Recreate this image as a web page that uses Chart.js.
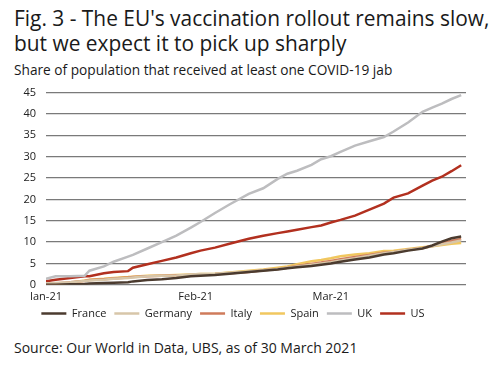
<!DOCTYPE html>
<html lang="en">
<head>
  <meta charset="UTF-8">
  <title>EU vaccination rollout</title>
  <script src="https://cdn.jsdelivr.net/npm/chart.js"></script>
  <style>
    body {
      margin: 0;
      width: 501px;
      height: 367px;
      background: #fff;
      font-family: 'Open Sans', sans-serif;
      color: #1a1a1a;
      position: relative;
      overflow: hidden;
    }
    .title {
      position: absolute;
      left: 14px;
      top: 6px;
      font-size: 20.9px;
      line-height: 25px;
    }
    .subtitle {
      position: absolute;
      left: 14px;
      top: 60px;
      font-size: 13.7px;
    }
    .chart-box {
      position: absolute;
      left: 0;
      top: 76px;
      width: 501px;
      height: 245px;
    }
    .source {
      position: absolute;
      left: 14px;
      top: 338px;
      font-size: 14px;
    }
  </style>
</head>
<body>
  <div class="title">Fig. 3 - The EU's vaccination rollout remains slow,<br>but we expect it to pick up sharply</div>
  <div class="subtitle">Share of population that received at least one COVID-19 jab</div>
  <div class="chart-box"><canvas id="rollout"></canvas></div>
  <div class="source">Source: Our World in Data, UBS, as of 30 March 2021</div>

  <script>
    // days since 1 Jan 2021
    const days = [0, 2, 5, 8, 9, 12, 14, 17, 18, 21, 24, 27, 30, 32, 35, 38, 42, 45, 48, 50,
                  52, 55, 57, 59, 61, 64, 67, 70, 72, 75, 78, 80, 82, 84, 86];

    const france  = [0.0, 0.0, 0.1, 0.2, 0.3, 0.4, 0.5, 0.6, 0.8, 1.1, 1.3, 1.6, 2.0, 2.1, 2.3, 2.6, 3.0, 3.3, 3.6, 3.9,
                     4.1, 4.4, 4.7, 5.0, 5.4, 5.9, 6.4, 7.1, 7.4, 8.0, 8.5, 9.2, 10.1, 10.9, 11.3];
    const germany = [0.3, 0.4, 0.6, 0.9, 1.0, 1.2, 1.4, 1.6, 1.7, 2.0, 2.1, 2.2, 2.4, 2.5, 2.6, 2.8, 3.1, 3.4, 3.7, 4.0,
                     4.3, 4.7, 5.0, 5.3, 5.7, 6.2, 6.8, 7.4, 7.7, 8.2, 8.6, 9.0, 9.5, 9.9, 10.4];
    const italy   = [0.1, 0.3, 0.6, 0.9, 1.1, 1.3, 1.5, 1.7, 1.8, 2.0, 2.1, 2.2, 2.3, 2.4, 2.5, 2.7, 3.0, 3.4, 3.7, 4.0,
                     4.4, 4.9, 5.2, 5.6, 6.0, 6.5, 7.0, 7.5, 7.7, 8.2, 8.6, 9.1, 9.7, 10.3, 10.7];
    const spain   = [0.1, 0.2, 0.5, 1.0, 1.2, 1.4, 1.6, 1.8, 1.9, 2.1, 2.2, 2.3, 2.4, 2.5, 2.6, 2.9, 3.3, 3.6, 4.0, 4.3,
                     4.8, 5.5, 5.8, 6.2, 6.7, 7.1, 7.4, 7.9, 8.0, 8.4, 8.8, 9.0, 9.3, 9.6, 9.8];
    const uk      = [1.4, 2.0, 2.0, 2.1, 3.3, 4.3, 5.4, 6.6, 7.0, 8.5, 10.0, 11.5, 13.4, 14.7, 16.8, 18.8, 21.3, 22.6, 24.8, 26.0,
                     26.7, 28.1, 29.4, 30.1, 31.1, 32.6, 33.6, 34.6, 35.9, 38.0, 40.5, 41.5, 42.4, 43.5, 44.4];
    const us      = [0.8, 1.2, 1.6, 2.0, 2.0, 2.7, 3.0, 3.2, 4.0, 4.8, 5.6, 6.4, 7.4, 8.0, 8.7, 9.6, 10.8, 11.5, 12.1, 12.5,
                     12.9, 13.5, 13.9, 14.6, 15.2, 16.2, 17.6, 19.0, 20.4, 21.4, 23.2, 24.4, 25.3, 26.6, 28.0];

    const monthTicks = [0, 31, 59];
    const monthLabels = ['Jan-21', 'Feb-21', 'Mar-21'];

    const series = [
      { label: 'France',  values: france,  color: '#4b3b2f' },
      { label: 'Germany', values: germany, color: '#d7c6a9' },
      { label: 'Italy',   values: italy,   color: '#cf7b5b' },
      { label: 'Spain',   values: spain,   color: '#f1c75f' },
      { label: 'UK',      values: uk,      color: '#bdbdbf' },
      { label: 'US',      values: us,      color: '#b2301f' }
    ];

    // pull the legend a bit closer to the axis labels
    const compactLegend = {
      id: 'compactLegend',
      beforeLayout(chart) {
        const legend = chart.legend;
        if (legend && !legend._compact) {
          const fit = legend.fit;
          legend.fit = function () { fit.call(this); this.height -= 8; };
          legend._compact = true;
        }
      }
    };

    const ctx = document.getElementById('rollout').getContext('2d');
    new Chart(ctx, {
      type: 'line',
      data: {
        datasets: series.map(s => ({
          label: s.label,
          data: s.values.map((v, i) => ({ x: days[i], y: v })),
          borderColor: s.color,
          backgroundColor: s.color,
          borderWidth: 2.5,
          pointRadius: 0,
          tension: 0
        }))
      },
      options: {
        responsive: true,
        maintainAspectRatio: false,
        animation: false,
        layout: { padding: { left: 0, right: 35, top: 2, bottom: 0 } },
        scales: {
          x: {
            type: 'linear',
            min: 0,
            max: 87,
            grid: { display: false },
            border: { display: false },
            afterBuildTicks: scale => {
              scale.ticks = monthTicks.map(v => ({ value: v }));
            },
            ticks: {
              autoSkip: false,
              maxRotation: 0,
              padding: -3,
              color: '#222',
              font: { family: 'Open Sans', size: 11 },
              callback: value => monthLabels[monthTicks.indexOf(value)]
            }
          },
          y: {
            min: 0,
            max: 45,
            afterFit: scale => { scale.width = 46; },
            grid: { color: '#7a7a7a', lineWidth: 1.3, drawTicks: false },
            border: { display: false },
            ticks: {
              stepSize: 5,
              padding: 10,
              color: '#222',
              font: { family: 'Open Sans', size: 11 }
            }
          }
        },
        plugins: {
          legend: {
            position: 'bottom',
            labels: {
              usePointStyle: true,
              pointStyle: 'line',
              pointStyleWidth: 25,
              boxHeight: 11,
              padding: 8,
              color: '#222',
              font: { family: 'Open Sans', size: 11 }
            }
          },
          tooltip: { enabled: false }
        }
      },
      plugins: [compactLegend]
    });
  </script>
</body>
</html>
